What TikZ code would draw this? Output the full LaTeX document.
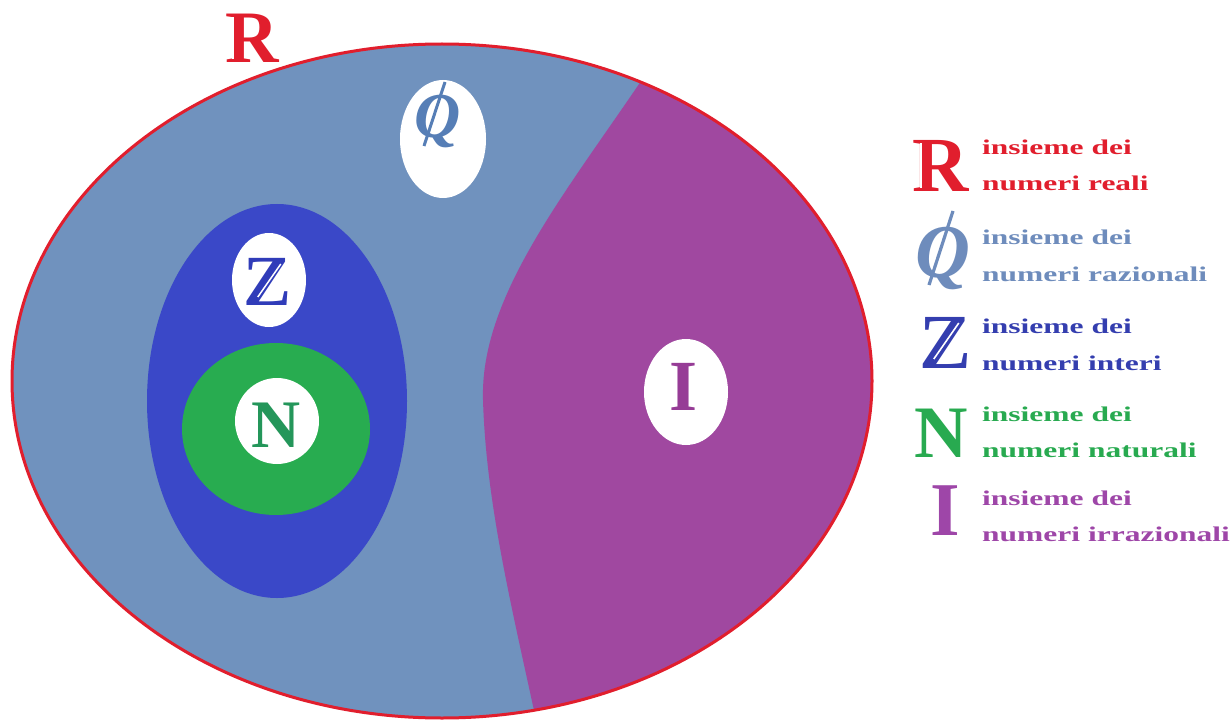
\documentclass[tikz,border=0pt]{standalone}
\usepackage{fontspec}
\usepackage{graphicx}
\usetikzlibrary{shapes.geometric,calc}
\newfontfamily\legfont{Liberation Serif}
\newcommand\legwide[1]{\scalebox{1.5}[1]{#1}}
\definecolor{qblue}{RGB}{112,146,190}
\definecolor{qglyph}{RGB}{86,126,182}
\definecolor{ipurple}{RGB}{160,72,160}
\definecolor{iglyph}{RGB}{150,60,150}
\definecolor{zblue}{RGB}{58,72,200}
\definecolor{zglyph}{RGB}{48,60,185}
\definecolor{ngreen}{RGB}{40,172,80}
\definecolor{nglyph}{RGB}{36,150,90}
\definecolor{rred}{RGB}{225,30,45}
\definecolor{qtext}{RGB}{110,140,188}
\definecolor{ztext}{RGB}{52,62,175}
\definecolor{ntext}{RGB}{40,170,80}
\definecolor{itext}{RGB}{158,70,168}
\begin{document}
\begin{tikzpicture}[x=1pt,y=-1pt,
  blob/.style={ellipse,inner sep=0pt,outer sep=0pt},
  leg/.style={anchor=base west,inner sep=0pt,font=\legfont\bfseries\fontsize{21}{21}\selectfont},
  glyph/.style={anchor=base,inner sep=0pt},
  bigl/.style={glyph,font=\legfont\bfseries\fontsize{#1}{#1}\selectfont},
  bigq/.style={glyph,font=\legfont\bfseries\itshape\fontsize{#1}{#1}\selectfont},
  gap/.style={white,line width=#1}]
\useasboundingbox[fill=white] (0,0) rectangle (1231,722);
% big set R
\fill[qblue] (442,381) ellipse [x radius=430, y radius=337];
\begin{scope}
\clip (442,381) ellipse [x radius=430, y radius=337];
\fill[ipurple] (662,50) -- (637,87) .. controls (560,200) and (480,300) .. (483,400)
  .. controls (486,500) and (510,600) .. (535,715) -- (541,745) -- (900,745) -- (900,30) -- cycle;
\end{scope}
\draw[rred,line width=3pt] (442,381) ellipse [x radius=430, y radius=337];
% Z and N sets
\node[blob,fill=zblue,minimum width=260,minimum height=394] (zset) at (277,401) {};
\node[blob,fill=ngreen,minimum width=188,minimum height=172] (nset) at (276,429) {};
% white labels
\node[blob,fill=white,minimum width=86,minimum height=118] (qw) at (443,139) {};
\node[blob,fill=white,minimum width=74,minimum height=94] (zw) at (269,280) {};
\node[blob,fill=white,minimum width=84,minimum height=86] (nw) at (277,421) {};
\node[blob,fill=white,minimum width=84,minimum height=106] (iw) at (686,392) {};
% glyphs in diagram
\node[bigl=74,text=rred] (rtop) at (252,63) {R};
\draw[gap=1.8pt] ($(rtop.base west)+(8,-4)$) -- ($(rtop.base west)+(8,-46)$);
\node[bigq=64,text=qglyph] (qin) at (438,138) {Q};
\draw[qglyph,line width=3pt] ($(qin.base)+(7,-56)$) -- ($(qin.base)+(-14,8)$);
\node[bigl=72,text=zglyph] (zin) at (268,305) {Z};
\draw[gap=1.5pt] ($(zin.base west)+(14,-8)$) -- ($(zin.base west)+(37,-41)$);
\node[bigl=68,text=nglyph] (nin) at (276,447) {N};
\node[bigl=72,text=iglyph] (iin) at (684,410) {I};
% legend
\node[bigl=78,text=rred] (rleg) at (941,192) {R};
\draw[gap=1.9pt] ($(rleg.base west)+(8.5,-4)$) -- ($(rleg.base west)+(8.5,-49)$);
\node[leg,text=rred] (r1) at (982,155) {\legwide{insieme dei}};
\node[leg,text=rred] (r2) at (982,191) {\legwide{numeri reali}};
\node[bigq=76,text=qtext] (qleg) at (943,277) {Q};
\draw[qtext,line width=3.2pt] ($(qleg.base)+(10,-66)$) -- ($(qleg.base)+(-14,8)$);
\node[leg,text=qtext] (q1) at (982,244) {\legwide{insieme dei}};
\node[leg,text=qtext] (q2) at (982,281) {\legwide{numeri razionali}};
\node[bigl=78,text=ztext] (zleg) at (945,368) {Z};
\draw[gap=1.6pt] ($(zleg.base west)+(15,-9)$) -- ($(zleg.base west)+(40,-45)$);
\node[leg,text=ztext] (z1) at (982,333) {\legwide{insieme dei}};
\node[leg,text=ztext] (z2) at (982,370) {\legwide{numeri interi}};
\node[bigl=74,text=ntext] (nleg) at (941,457) {N};
\node[leg,text=ntext] (n1) at (982,421) {\legwide{insieme dei}};
\node[leg,text=ntext] (n2) at (982,457) {\legwide{numeri naturali}};
\node[bigl=76,text=itext] (ileg) at (945,535) {I};
\node[leg,text=itext] (i1) at (982,505) {\legwide{insieme dei}};
\node[leg,text=itext] (i2) at (982,541) {\legwide{numeri irrazionali}};
\end{tikzpicture}
\end{document}
